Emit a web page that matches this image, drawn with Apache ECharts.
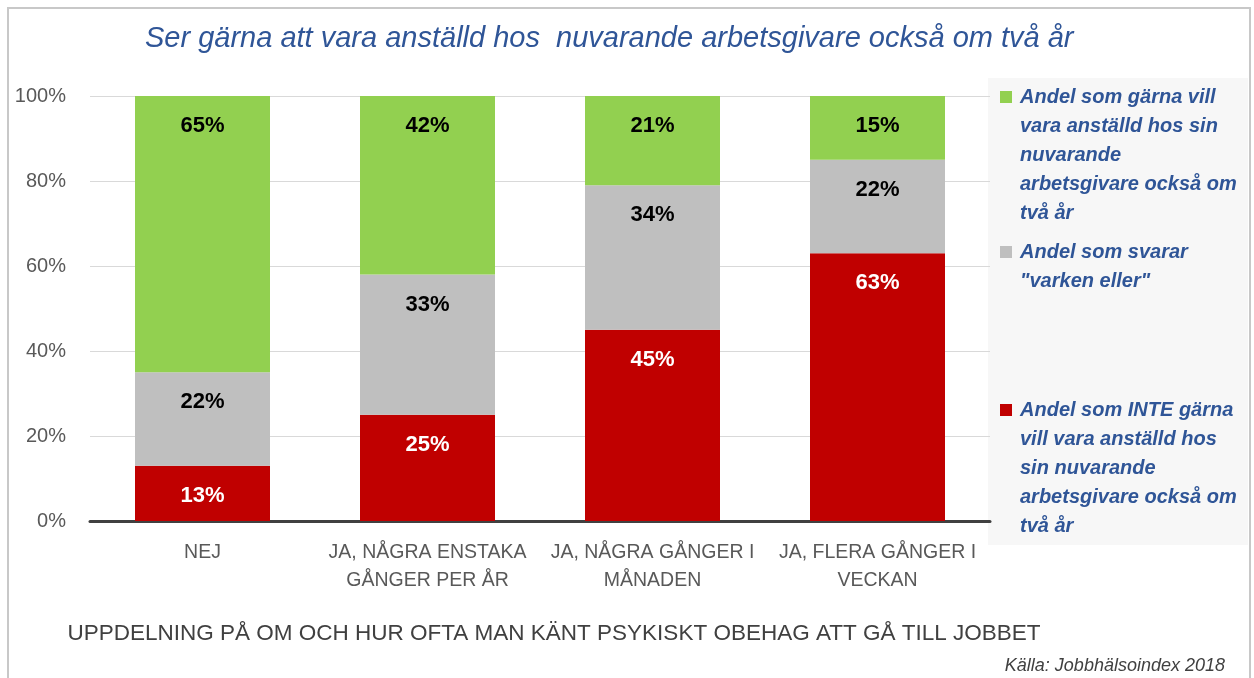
<!DOCTYPE html>
<html>
<head>
<meta charset="utf-8">
<script src="https://cdn.jsdelivr.net/npm/echarts@6/dist/echarts.min.js"></script>
<style>
  html, body { margin: 0; padding: 0; background: #fff; }
  #main { width: 1254px; height: 678px; }
</style>
</head>
<body>
<div id="main"></div>
<script>
// kategorier (x-axel)
var categories = ['NEJ', 'JA, NÅGRA ENSTAKA\nGÅNGER PER ÅR', 'JA, NÅGRA GÅNGER I\nMÅNADEN', 'JA, FLERA GÅNGER I\nVECKAN'];
// andelar i procent
var inteGarna = [13, 25, 45, 63];
var varkenEller = [22, 33, 34, 22];
var garna = [65, 42, 21, 15];
// seriernas namn (legend)
var namnGarna = 'Andel som gärna vill\nvara anställd hos sin\nnuvarande\narbetsgivare också om\ntvå år';
var namnVarken = 'Andel som svarar\n"varken eller"';
var namnInte = 'Andel som INTE gärna\nvill vara anställd hos\nsin nuvarande\narbetsgivare också om\ntvå år';
var yTicks = [0, 20, 40, 60, 80, 100];

var blue = '#2f5597';
var chart = echarts.init(document.getElementById('main'));

function serie(name, data, color, labelColor) {
  return {
    name: name,
    type: 'bar',
    stack: 'tot',
    barWidth: '60%',
    data: data,
    itemStyle: { color: color },
    label: {
      show: true,
      position: 'insideTop',
      distance: 19,
      formatter: '{c}%',
      color: labelColor,
      fontSize: 22,
      fontWeight: 'bold',
      fontFamily: 'Liberation Sans'
    }
  };
}

// legend ritas som grafik (ikon vid första raden)
function legendItem(y, color, text) {
  return [{
    type: 'rect',
    shape: { x: 1000, y: y - 6, width: 12, height: 12 },
    style: { fill: color }
  }, {
    type: 'text',
    x: 1020,
    y: y - 14.5,
    style: {
      text: text,
      fill: blue,
      font: 'italic bold 20px "Liberation Sans"',
      lineHeight: 29,
      verticalAlign: 'top'
    }
  }];
}

var option = {
  animation: false,
  title: {
    text: 'Ser gärna att vara anställd hos  nuvarande arbetsgivare också om två år',
    left: 140,
    top: 19,
    textStyle: {
      color: blue,
      fontSize: 29,
      fontStyle: 'italic',
      fontWeight: 'normal',
      fontFamily: 'Liberation Sans'
    }
  },
  grid: { left: 90, right: 264, top: 96, bottom: 157 },
  xAxis: {
    type: 'category',
    data: categories,
    name: 'UPPDELNING PÅ OM OCH HUR OFTA MAN KÄNT PSYKISKT OBEHAG ATT GÅ TILL JOBBET',
    nameLocation: 'middle',
    nameGap: 101,
    nameTextStyle: { color: '#404040', fontSize: 22.5, fontFamily: 'Liberation Sans', padding: [0, 0, 0, 28] },
    axisLine: { lineStyle: { color: '#404040', width: 3 } },
    axisTick: { show: false },
    axisLabel: {
      interval: 0,
      margin: 18,
      color: '#595959',
      fontSize: 19.5,
      lineHeight: 28,
      fontFamily: 'Liberation Sans'
    }
  },
  yAxis: {
    type: 'value',
    min: yTicks[0],
    max: yTicks[yTicks.length - 1],
    interval: 20,
    axisLine: { show: false },
    axisTick: { show: false },
    axisLabel: {
      formatter: '{value}%',
      margin: 24,
      color: '#595959',
      fontSize: 20,
      fontFamily: 'Liberation Sans'
    },
    splitLine: { lineStyle: { color: '#d9d9d9', width: 1 } }
  },
  legend: { show: false },
  graphic: [
    {
      type: 'rect',
      z: -10,
      shape: { x: 8, y: 8, width: 1242, height: 690 },
      style: { fill: 'none', stroke: '#c8c8c8', lineWidth: 2 }
    },
    {
      type: 'rect',
      z: -5,
      shape: { x: 988, y: 78, width: 260, height: 467 },
      style: { fill: '#f7f7f7' }
    },
    {
      type: 'text',
      right: 29,
      top: 657,
      style: {
        text: 'Källa: Jobbhälsoindex 2018',
        fill: '#404040',
        font: 'italic 18px "Liberation Sans"'
      }
    }
  ].concat(legendItem(97, '#92d050', namnGarna))
   .concat(legendItem(252, '#bfbfbf', namnVarken))
   .concat(legendItem(410, '#c00000', namnInte)),
  series: [
    serie(namnInte, inteGarna, '#c00000', '#ffffff'),
    serie(namnVarken, varkenEller, '#bfbfbf', '#000000'),
    serie(namnGarna, garna, '#92d050', '#000000')
  ]
};

chart.setOption(option);
window.onresize = chart.resize;
</script>
</body>
</html>
